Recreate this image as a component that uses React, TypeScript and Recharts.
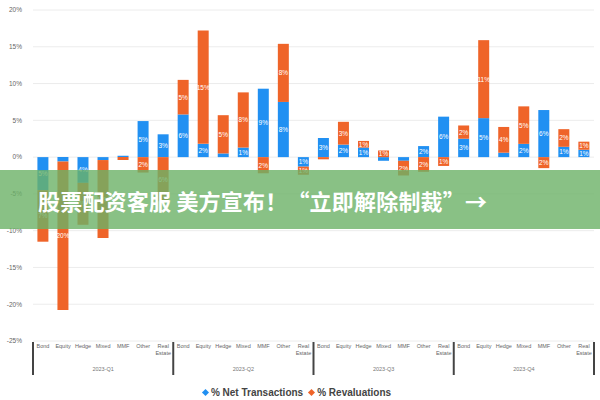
import {
  BarChart,
  Bar,
  XAxis,
  YAxis,
  CartesianGrid,
  Legend,
  LabelList,
} from "recharts";

const categories = ["Bond", "Equity", "Hedge", "Mixed", "MMF", "Other", "Real Estate"];
const quarters = ["2023-Q1", "2023-Q2", "2023-Q3", "2023-Q4"];

// % net transactions, per quarter then per category
const netTransactions = [
  -4.5, -0.6, -3.5, -0.4, 0.2, 4.9, 3.1,
  5.8, 1.8, 0.5, 1.3, 9.3, 7.5, -1.3,
  2.6, 1.7, 1.3, -0.5, -0.5, 1.5, 5.5,
  2.5, 5.3, 0.6, 1.8, 6.4, 1.4, 1.0,
];

// % revaluations
const revaluations = [
  -7.0, -20.2, -5.7, -10.6, -0.4, -2.1, -6.0,
  4.7, 15.4, 5.2, 7.5, -2.2, 7.9, -1.1,
  -0.3, 3.1, 0.9, 0.9, -2.0, -2.0, -1.2,
  1.8, 10.6, 3.5, 5.1, -1.5, 2.4, 1.1,
];

const yTicks = [-25, -20, -15, -10, -5, 0, 5, 10, 15, 20];

const BLUE = "#2190f2";
const ORANGE = "#ef6429";

const data = quarters.flatMap((q, qi) =>
  categories.map((c, ci) => ({
    key: `${q}-${c}`,
    cat: c,
    quarter: q,
    net: netTransactions[qi * 7 + ci],
    reval: revaluations[qi * 7 + ci],
  }))
);

const BAND = (594 - 33) / data.length;

// two-level x axis: category name, group separators and quarter label
const CategoryTick = (props: any) => {
  const { x, y, payload } = props;
  const idx = payload.index;
  const row = data[idx];
  const words = row.cat === "Real Estate" ? ["Real", "Estate"] : [row.cat];
  return (
    <g>
      {words.map((w, i) => (
        <text
          key={w}
          x={x}
          y={y + 7 + i * 7}
          textAnchor="middle"
          fontSize={5.5}
          fill="#666"
          fontFamily="Liberation Sans, Arial, sans-serif"
        >
          {w}
        </text>
      ))}
      {idx % 7 === 0 && (
        <line x1={x - BAND / 2} x2={x - BAND / 2} y1={y + 1} y2={y + 34} stroke="#444" strokeWidth={2} />
      )}
      {idx === data.length - 1 && (
        <line x1={x + BAND / 2} x2={x + BAND / 2} y1={y + 1} y2={y + 34} stroke="#444" strokeWidth={2} />
      )}
      {idx % 7 === 3 && (
        <text
          x={x}
          y={y + 30}
          textAnchor="middle"
          fontSize={5.5}
          fill="#777"
          fontFamily="Liberation Sans, Arial, sans-serif"
        >
          {row.quarter}
        </text>
      )}
    </g>
  );
};

const renderBarLabel = (props: any) => {
  const { x, y, width, height, value } = props;
  if (Math.abs(value) < 0.8) return null;
  return (
    <text
      x={x + width / 2}
      y={y + height / 2}
      textAnchor="middle"
      dominantBaseline="central"
      fontSize={6.5}
      fill="#fff"
      fontFamily="Liberation Sans, Arial, sans-serif"
    >
      {`${Math.round(Math.abs(value))}%`}
    </text>
  );
};

const renderLegend = (props: any) => {
  const { payload } = props;
  return (
    <div style={{ display: "flex", justifyContent: "center", gap: 6, paddingTop: 5 }}>
      {payload.map((entry: any) => (
        <span
          key={entry.value}
          style={{
            display: "flex",
            alignItems: "center",
            fontSize: 10,
            fontWeight: "bold",
            color: "#444",
            fontFamily: "Liberation Sans, Arial, sans-serif",
          }}
        >
          <span
            style={{
              width: 5,
              height: 5,
              background: entry.color,
              transform: "rotate(45deg)",
              marginRight: 3,
              display: "inline-block",
            }}
          />
          {entry.value}
        </span>
      ))}
    </div>
  );
};

export default function App() {
  return (
    <div style={{ position: "absolute", left: 0, top: 0, width: 600, height: 400, background: "#fff" }}>
      <BarChart
        width={600}
        height={400}
        data={data}
        stackOffset="sign"
        barCategoryGap="22%"
        margin={{ top: 10, right: 6, left: 0, bottom: 0 }}
      >
        <CartesianGrid vertical={false} stroke="#ececec" />
        <XAxis
          dataKey="key"
          interval={0}
          axisLine={false}
          tickLine={false}
          tickSize={0}
          tickMargin={0}
          height={41}
          tick={<CategoryTick />}
        />
        <YAxis
          domain={[-25, 20]}
          ticks={yTicks}
          width={33}
          axisLine={false}
          tickLine={false}
          tickMargin={5}
          tickFormatter={(v: number) => `${v}%`}
          tick={{ fontSize: 6.5, fill: "#666", fontFamily: "Liberation Sans, Arial, sans-serif" }}
        />
        <Legend
          verticalAlign="bottom"
          height={18}
          content={renderLegend}
        />
        <Bar dataKey="net" name="% Net Transactions" stackId="a" fill={BLUE} isAnimationActive={false}>
          <LabelList dataKey="net" content={renderBarLabel} />
        </Bar>
        <Bar dataKey="reval" name="% Revaluations" stackId="a" fill={ORANGE} isAnimationActive={false}>
          <LabelList dataKey="reval" content={renderBarLabel} />
        </Bar>
      </BarChart>
      <div
        style={{
          position: "absolute",
          left: 0,
          top: 170,
          width: 600,
          height: 59,
          background: "rgba(108,178,102,0.8)",
          display: "flex",
          alignItems: "center",
        }}
      >
        <span
          style={{
            marginLeft: 38,
            color: "#fff",
            fontSize: 22,
            letterSpacing: 0.2,
            fontWeight: "bold",
            fontFamily: "'Noto Sans CJK SC', sans-serif",
            whiteSpace: "nowrap",
          }}
        >
          股票配资客服 美方宣布！“立即解除制裁”→
        </span>
      </div>
    </div>
  );
}
